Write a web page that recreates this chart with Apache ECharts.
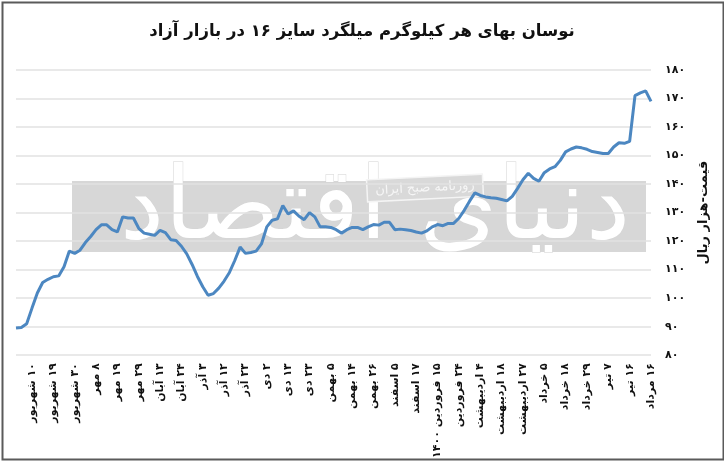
<!DOCTYPE html>
<html>
<head>
<meta charset="utf-8">
<script src="https://cdn.jsdelivr.net/npm/echarts@6/dist/echarts.min.js"></script>
<style>
html,body{margin:0;padding:0;background:#fff;}
#c{width:724px;height:461px;}
</style>
</head>
<body>
<div id="c" dir="rtl"></div>
<script>
// Tick labels (x axis), one every 4 data points, first at index 3
var tickLabels = [
  '۱۰ شهریور','۱۹ شهریور','۳۰ شهریور','۸ مهر','۱۹ مهر','۲۹ مهر','۱۳ آبان','۲۴ آبان',
  '۳ آذر','۱۲ آذر','۲۳ آذر','۲ دی','۱۳ دی','۲۳ دی','۵ بهمن','۱۴ بهمن','۲۶ بهمن',
  '۵ اسفند','۱۷ اسفند','۱۵ فروردین ۱۴۰۰','۲۴ فروردین','۴ اردیبهشت','۱۸ اردیبهشت',
  '۲۷ اردیبهشت','۵ خرداد','۱۸ خرداد','۲۹ خرداد','۷ تیر','۱۶ تیر','۱۶ مرداد'
];
var labelOffset = 3;
var labelStep = 4;

// Price, thousand rials per kg
var prices = [
  89.5, 89.7, 91, 96.5, 101.8, 105.5, 106.6, 107.5, 107.8, 111,
  116.5, 115.7, 116.8, 119.5, 121.6, 124, 125.7, 125.7, 124, 123.2,
  128.5, 128.1, 128.1, 124.5, 122.8, 122.4, 122, 123.8, 123, 120.5,
  120.2, 118.2, 115.5, 111.8, 107.6, 104, 101, 101.6, 103.5, 106,
  109, 113.2, 117.9, 115.7, 116, 116.5, 119, 125, 127.3, 127.8,
  132.5, 129.5, 130.6, 128.8, 127.5, 130, 128.5, 125, 125, 124.8,
  124, 122.8, 124, 124.8, 124.8, 124, 125, 125.8, 125.6, 126.6,
  126.6, 124, 124.2, 124, 123.7, 123.2, 122.8, 123.6, 125, 125.8,
  125.4, 126.2, 126.2, 128, 130.8, 134, 136.9, 136, 135.5, 135.2,
  135, 134.6, 134.1, 135.7, 138.5, 141.5, 143.8, 142, 141, 144,
  145.3, 146.1, 148.3, 151.3, 152.3, 153, 152.7, 152.2, 151.4, 151.1,
  150.7, 150.7, 153, 154.5, 154.3, 155, 171, 172, 172.7, 169
];

var title = 'نوسان بهای هر کیلوگرم میلگرد سایز ۱۶ در بازار آزاد';
var yName = 'قیمت-هزار ریال';
var watermarkSmall = 'روزنامه صبح ایران';
var watermarkBig = 'دنیای اقتصاد';

function fa(s){ return String(s).replace(/[0-9]/g, function(d){ return '۰۱۲۳۴۵۶۷۸۹'[+d]; }); }

var categories = prices.map(function(v, i){
  var k = i - labelOffset;
  if (k >= 0 && k % labelStep === 0 && tickLabels[k / labelStep] !== undefined) return tickLabels[k / labelStep];
  return '';
});

var FONT = '"DejaVu Sans", "Noto Sans", sans-serif';
var chart = echarts.init(document.getElementById('c'), null, {renderer:'canvas'});
chart.setOption({
  backgroundColor: '#ffffff',
  animation: false,
  title: {
    text: title, left: 'center', top: 18,
    textStyle: {fontFamily: FONT, fontSize: 16.5, fontWeight: 'bold', color: '#111'}
  },
  graphic: [
    {type:'rect', left: 0, top: 0, z: 100, silent: true,
     shape:{x:1, y:1, width:721, height:457}, style:{fill:'none', stroke:'#5a5a5a', lineWidth:2}},
    {type:'rect', z: -10, silent: true, shape:{x:72, y:181, width:574, height:71}, style:{fill:'#d7d7d7'}},
    {type:'text', z: -9, silent: true, x: 375, y: 212, style:{
      text: watermarkBig, fill:'#ffffff', stroke:'#d4d4d4', lineWidth:1,
      font: '100px ' + FONT, align:'center', verticalAlign:'middle'}},
    {type:'group', z: -8, silent: true, x: 425, y: 188, rotation: 0.05, children: [
      {type:'rect', shape:{x:-58, y:-11, width:116, height:22}, style:{fill:'#d9d9d9', stroke:'#f4f4f4', lineWidth:1.5}},
      {type:'text', style:{text: watermarkSmall, fill:'#f6f6f6', font:'13px ' + FONT, align:'center', verticalAlign:'middle'}}
    ]}
  ],
  grid: {left: 16, right: 73, top: 70, bottom: 101, containLabel: false},
  xAxis: {
    type: 'category', data: categories, boundaryGap: false,
    axisLine: {show: false}, axisTick: {show: false},
    axisLabel: {
      interval: function(i){ var k = i - labelOffset; return k >= 0 && k % labelStep === 0; },
      rotate: 90, margin: 8, color: '#111', fontFamily: FONT, fontSize: 11, fontWeight: 'bold'
    },
    splitLine: {show: false}
  },
  yAxis: {
    type: 'value', position: 'right', min: 80, max: 180, interval: 10,
    axisLine: {show: false}, axisTick: {show: false},
    axisLabel: {formatter: function(v){ return fa(v); }, margin: 14, color: '#111',
      fontFamily: FONT, fontSize: 11, fontWeight: 'bold', align: 'left'},
    splitLine: {lineStyle: {color: '#e2e2e2', width: 1.5}},
    name: yName, nameLocation: 'middle', nameGap: 46, nameRotate: 90,
    nameTextStyle: {fontFamily: FONT, fontSize: 13, fontWeight: 'bold', color: '#111'}
  },
  series: [{
    type: 'line', data: prices, showSymbol: false, symbol: 'none',
    lineStyle: {color: '#4c87c1', width: 3}, z: 5
  }]
});
</script>
</body>
</html>
